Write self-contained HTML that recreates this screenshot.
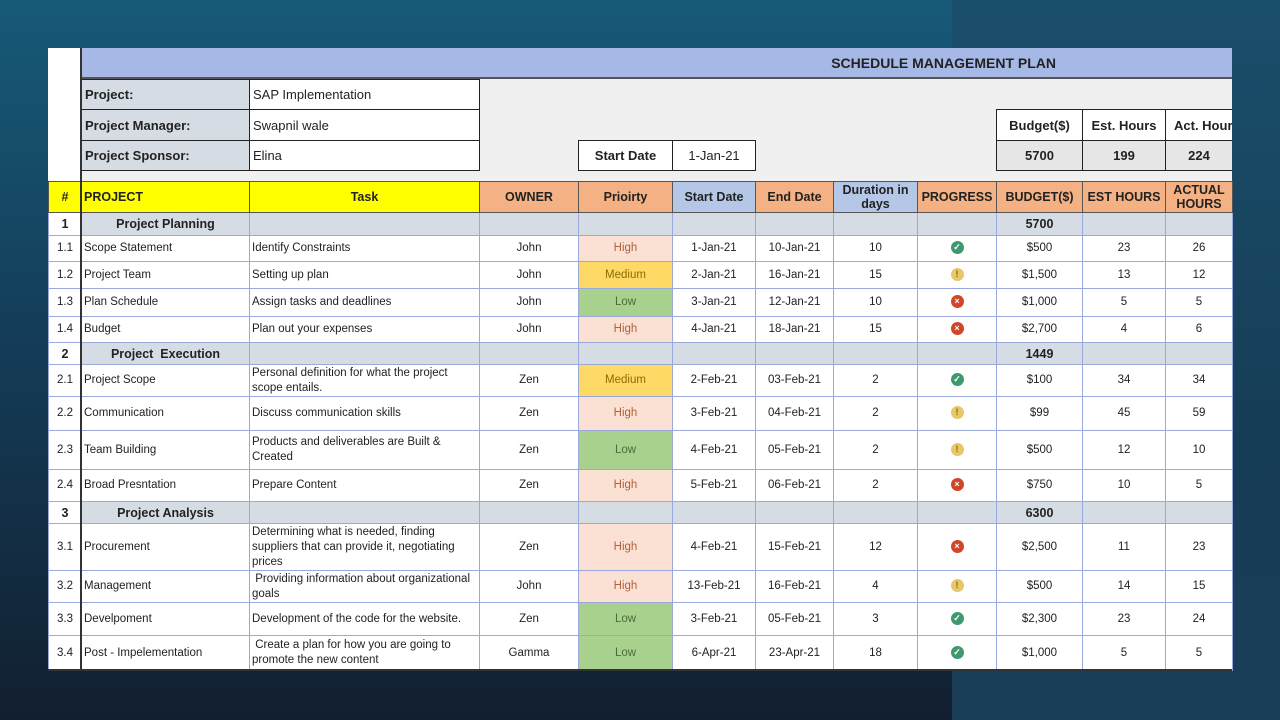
<!DOCTYPE html>
<html><head><meta charset="utf-8"><style>
*{margin:0;padding:0;box-sizing:border-box}
body{width:1280px;height:720px;overflow:hidden;position:relative;font-family:"Liberation Sans",Arial,sans-serif;color:#222;
background:linear-gradient(180deg,#175a78 0%,#143e5a 45%,#121f30 100%)}
.rs{position:absolute;left:952px;top:0;width:328px;height:720px;background:linear-gradient(180deg,#1a4f6c 0%,#163d56 60%,#1b3e58 100%)}
.sheet{position:absolute;left:48px;top:48px;width:1184px;height:622px;background:#fff}
.a{position:absolute;font-size:13px;display:flex;align-items:center}
.b{border:1px solid #222}
table{position:absolute;left:48px;top:181px;border-collapse:collapse;table-layout:fixed;width:1184px}
td{border:1px solid #9aa9dc;font-size:11.5px;text-align:center;overflow:hidden;line-height:15px;padding:0 2px}
td.l{text-align:left}
tr.h td{font-weight:bold;font-size:12.5px;border-color:#555;line-height:14px}
tr.g td{background:#d6dce4;font-weight:bold;font-size:12.5px;line-height:14px}
.y{background:#ffff00}.o{background:#f4b183}.bl{background:#b4c7e7}
.hi{background:#fbe0d4;color:#b0623c}.me{background:#ffd966;color:#8a6d00}.lo{background:#a9d18e;color:#4d6b3a}
.i{display:inline-block;width:13px;height:13px;border-radius:50%;color:#fff;font-size:9px;line-height:13px;font-weight:bold;vertical-align:middle}
.ok{background:#3e9a6e}.wa{background:#e7c76a;color:#8a6d00}.x{background:#d0462a}
</style></head><body>
<div class="rs"></div>
<div class="sheet"></div>
<div class="a" style="left:81px;top:48px;width:1151px;height:31px;background:#a6b9e6;border-bottom:2px solid #555;justify-content:flex-end;padding-right:176px;font-weight:bold;font-size:14px">SCHEDULE MANAGEMENT PLAN</div>
<div class="a" style="left:81px;top:79px;width:1151px;height:102px;background:#f0f0f0"></div>
<div class="a b" style="left:81px;top:79px;width:169px;height:31px;background:#d6dce4;font-weight:bold;padding-left:3px">Project:</div>
<div class="a b" style="left:249px;top:79px;width:231px;height:31px;background:#fff;padding-left:3px">SAP Implementation</div>
<div class="a b" style="left:81px;top:109px;width:169px;height:32px;background:#d6dce4;font-weight:bold;padding-left:3px">Project Manager:</div>
<div class="a b" style="left:249px;top:109px;width:231px;height:32px;background:#fff;padding-left:3px">Swapnil wale</div>
<div class="a b" style="left:81px;top:140px;width:169px;height:31px;background:#d6dce4;font-weight:bold;padding-left:3px">Project Sponsor:</div>
<div class="a b" style="left:249px;top:140px;width:231px;height:31px;background:#fff;padding-left:3px">Elina</div>
<div class="a b" style="left:578px;top:140px;width:95px;height:31px;background:#fff;font-weight:bold;justify-content:center">Start Date</div>
<div class="a b" style="left:672px;top:140px;width:84px;height:31px;background:#fff;justify-content:center">1-Jan-21</div>
<div class="a b" style="left:996px;top:109px;width:87px;height:32px;background:#fff;font-weight:bold;justify-content:center">Budget($)</div>
<div class="a b" style="left:1082px;top:109px;width:84px;height:32px;background:#fff;font-weight:bold;justify-content:center">Est. Hours</div>
<div class="a b" style="left:1165px;top:109px;width:67px;height:32px;background:#fff;font-weight:bold;padding-left:8px;white-space:nowrap;overflow:hidden;border-right:none">Act. Hours</div>
<div class="a b" style="left:996px;top:140px;width:87px;height:31px;background:#e6e6e6;font-weight:bold;justify-content:center">5700</div>
<div class="a b" style="left:1082px;top:140px;width:84px;height:31px;background:#e6e6e6;font-weight:bold;justify-content:center">199</div>
<div class="a b" style="left:1165px;top:140px;width:67px;height:31px;background:#e6e6e6;font-weight:bold;justify-content:center;border-right:none">224</div>
<table>
<colgroup><col style="width:33px"><col style="width:168px"><col style="width:230px"><col style="width:99px"><col style="width:94px"><col style="width:83px"><col style="width:78px"><col style="width:84px"><col style="width:79px"><col style="width:86px"><col style="width:83px"><col style="width:67px"></colgroup>
<tr class="h" style="height:31px"><td class="y">#</td><td class="y l">PROJECT</td><td class="y">Task</td><td class="o">OWNER</td><td class="o">Prioirty</td><td class="bl">Start Date</td><td class="o">End Date</td><td class="bl">Duration in days</td><td class="o">PROGRESS</td><td class="o">BUDGET($)</td><td class="o">EST HOURS</td><td class="o">ACTUAL HOURS</td></tr>
<tr class="g" style="height:23px"><td style="background:#fff">1</td><td>Project Planning</td><td></td><td></td><td></td><td></td><td></td><td></td><td></td><td>5700</td><td></td><td></td></tr>
<tr style="height:26px"><td>1.1</td><td class="l">Scope Statement</td><td class="l">Identify Constraints</td><td>John</td><td class="hi">High</td><td>1-Jan-21</td><td>10-Jan-21</td><td>10</td><td><span class="i ok">✓</span></td><td>$500</td><td>23</td><td>26</td></tr>
<tr style="height:27px"><td>1.2</td><td class="l">Project Team</td><td class="l">Setting up plan</td><td>John</td><td class="me">Medium</td><td>2-Jan-21</td><td>16-Jan-21</td><td>15</td><td><span class="i wa">!</span></td><td>$1,500</td><td>13</td><td>12</td></tr>
<tr style="height:28px"><td>1.3</td><td class="l">Plan Schedule</td><td class="l">Assign tasks and deadlines</td><td>John</td><td class="lo">Low</td><td>3-Jan-21</td><td>12-Jan-21</td><td>10</td><td><span class="i x">×</span></td><td>$1,000</td><td>5</td><td>5</td></tr>
<tr style="height:26px"><td>1.4</td><td class="l">Budget</td><td class="l">Plan out your expenses</td><td>John</td><td class="hi">High</td><td>4-Jan-21</td><td>18-Jan-21</td><td>15</td><td><span class="i x">×</span></td><td>$2,700</td><td>4</td><td>6</td></tr>
<tr class="g" style="height:22px"><td style="background:#fff">2</td><td>Project&nbsp; Execution</td><td></td><td></td><td></td><td></td><td></td><td></td><td></td><td>1449</td><td></td><td></td></tr>
<tr style="height:32px"><td>2.1</td><td class="l">Project Scope</td><td class="l">Personal definition for what the project scope entails.</td><td>Zen</td><td class="me">Medium</td><td>2-Feb-21</td><td>03-Feb-21</td><td>2</td><td><span class="i ok">✓</span></td><td>$100</td><td>34</td><td>34</td></tr>
<tr style="height:34px"><td>2.2</td><td class="l">Communication</td><td class="l">Discuss communication skills</td><td>Zen</td><td class="hi">High</td><td>3-Feb-21</td><td>04-Feb-21</td><td>2</td><td><span class="i wa">!</span></td><td>$99</td><td>45</td><td>59</td></tr>
<tr style="height:39px"><td>2.3</td><td class="l">Team Building</td><td class="l">Products and deliverables are Built &amp; Created</td><td>Zen</td><td class="lo">Low</td><td>4-Feb-21</td><td>05-Feb-21</td><td>2</td><td><span class="i wa">!</span></td><td>$500</td><td>12</td><td>10</td></tr>
<tr style="height:32px"><td>2.4</td><td class="l">Broad Presntation</td><td class="l">Prepare Content</td><td>Zen</td><td class="hi">High</td><td>5-Feb-21</td><td>06-Feb-21</td><td>2</td><td><span class="i x">×</span></td><td>$750</td><td>10</td><td>5</td></tr>
<tr class="g" style="height:22px"><td style="background:#fff">3</td><td>Project Analysis</td><td></td><td></td><td></td><td></td><td></td><td></td><td></td><td>6300</td><td></td><td></td></tr>
<tr style="height:47px"><td>3.1</td><td class="l">Procurement</td><td class="l">Determining what is needed, finding suppliers that can provide it, negotiating prices</td><td>Zen</td><td class="hi">High</td><td>4-Feb-21</td><td>15-Feb-21</td><td>12</td><td><span class="i x">×</span></td><td>$2,500</td><td>11</td><td>23</td></tr>
<tr style="height:32px"><td>3.2</td><td class="l">Management</td><td class="l">&nbsp;Providing information about organizational goals</td><td>John</td><td class="hi">High</td><td>13-Feb-21</td><td>16-Feb-21</td><td>4</td><td><span class="i wa">!</span></td><td>$500</td><td>14</td><td>15</td></tr>
<tr style="height:33px"><td>3.3</td><td class="l">Develpoment</td><td class="l">Development of the code for the website.</td><td>Zen</td><td class="lo">Low</td><td>3-Feb-21</td><td>05-Feb-21</td><td>3</td><td><span class="i ok">✓</span></td><td>$2,300</td><td>23</td><td>24</td></tr>
<tr style="height:35px"><td>3.4</td><td class="l">Post - Impelementation</td><td class="l">&nbsp;Create a plan for how you are going to promote the new content</td><td>Gamma</td><td class="lo">Low</td><td>6-Apr-21</td><td>23-Apr-21</td><td>18</td><td><span class="i ok">✓</span></td><td>$1,000</td><td>5</td><td>5</td></tr>
</table>
<div style="position:absolute;left:80px;top:48px;width:2px;height:622px;background:#333"></div>
<div style="position:absolute;left:48px;top:669px;width:1184px;height:2px;background:#333"></div>
<div style="position:absolute;left:952px;top:671px;width:328px;height:49px;background:#1b3e58"></div>
</body></html>
